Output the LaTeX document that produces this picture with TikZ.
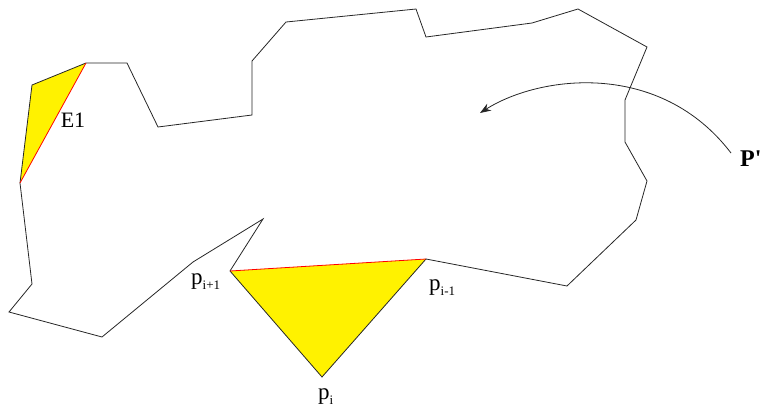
\documentclass[tikz,border=0pt]{standalone}
\usepackage{fontspec}
\setmainfont{Liberation Serif}
\usetikzlibrary{arrows.meta}

\newcommand{\lowsub}[1]{\raisebox{-5.5pt}{\fontsize{13}{15}\selectfont #1}}

\tikzset{
  edge/.style={draw=black!85, line width=0.8pt, line join=miter},
  diag/.style={draw=red, line width=0.8pt},
  vlabel/.style={inner sep=0pt, anchor=base west, font=\fontsize{23}{26}\selectfont}
}

\begin{document}
\begin{tikzpicture}[x=1pt, y=-1pt, >={Stealth[length=11pt,width=8pt]}]
  \useasboundingbox (0,0) rectangle (761,410);

  % vertices of the polygon
  \coordinate (pi)  at (322,377);
  \coordinate (pip) at (230,271);
  \coordinate (pim) at (426,259);
  \coordinate (ea)  at (20,183);
  \coordinate (eb)  at (32,85);
  \coordinate (ec)  at (86,63);

  % ears
  \fill[yellow] (ea) -- (eb) -- (ec) -- cycle;
  \fill[yellow] (pip) -- (pi) -- (pim) -- cycle;

  % outline
  \draw[edge] (pi) -- (pip) -- (263,219) -- (193,262) -- (102,337) -- (9,312)
    -- (32,284) -- (ea) -- (eb) -- (ec) -- (127,63) -- (158,127) -- (252,115)
    -- (252,61) -- (286,22) -- (416,9) -- (426,37) -- (532,23) -- (578,9)
    -- (647,47) -- (625,100) -- (625,142) -- (647,181) -- (636,220)
    -- (567,286) -- (pim) -- cycle;

  % diagonals
  \draw[diag] (ea) -- (ec);
  \draw[diag] (pip) -- (pim);

  % labels
  \node[vlabel] (lpip) at (191,284) {p\lowsub{i+1}};
  \node[vlabel] (lpim) at (429,290) {p\lowsub{i-1}};
  \node[vlabel] (lpi)  at (318,399) {p\lowsub{i}};
  \node[inner sep=0pt, font=\fontsize{22}{26}\selectfont] (le1) at (73,120) {E1};
  \node[inner sep=0pt, anchor=base west, font=\fontsize{24}{26}\selectfont\bfseries] (lP) at (740,166) {P\textquotesingle};

  \coordinate (arcstart) at (731,153);
  \coordinate (aim) at (480,113);
  \draw[->, black!85, line width=0.8pt] (arcstart) .. controls (660,60) and (540,75) .. (aim);
\end{tikzpicture}
\end{document}
